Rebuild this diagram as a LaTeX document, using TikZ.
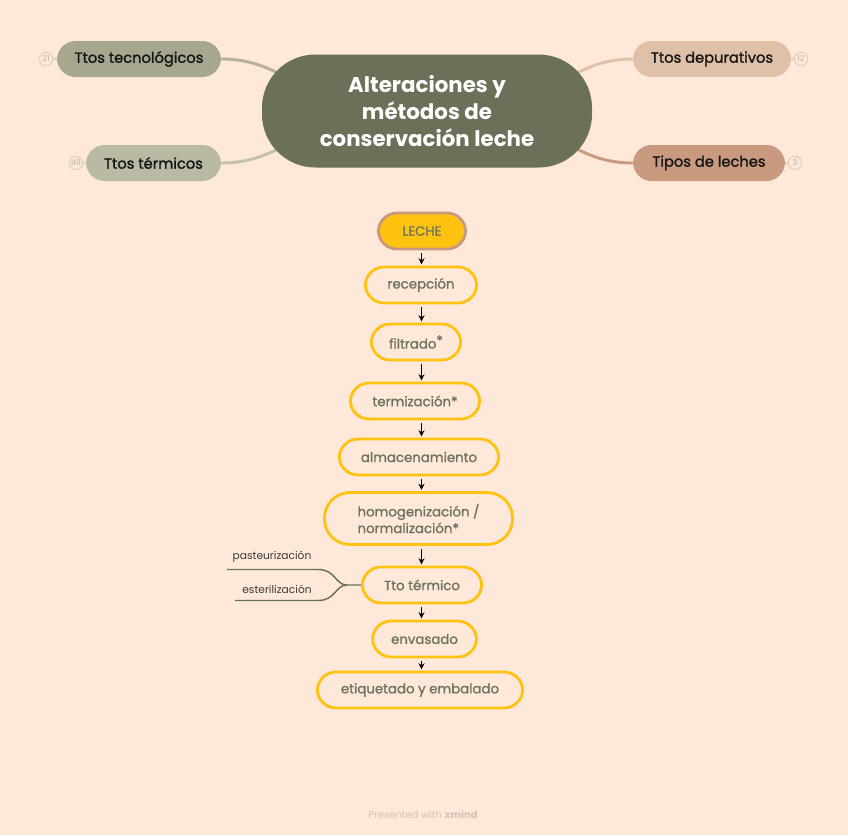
\documentclass[tikz,border=0pt]{standalone}
\usepackage{fontspec}
\setmainfont{Poppins}
\newfontfamily\semifont{Poppins}[FakeBold=1.6]
\newfontfamily\medfont{Poppins}[FakeBold=1.2]
\usepackage{xcolor}
\usetikzlibrary{arrows.meta}

\definecolor{bgpeach}{HTML}{FDE8D9}
\definecolor{hubgrey}{HTML}{6B7159}
\definecolor{tecno}{HTML}{A7A78F}
\definecolor{termi}{HTML}{B9B9A4}
\definecolor{depur}{HTML}{DFC1AA}
\definecolor{tipos}{HTML}{C99A7F}
\definecolor{amber}{HTML}{FFC20E}
\definecolor{lecheline}{HTML}{C9997F}
\definecolor{badgering}{HTML}{E2D0C1}
\definecolor{badgetext}{HTML}{C2AF9F}
\definecolor{inkdark}{HTML}{161616}
\definecolor{flowtext}{HTML}{6E735E}
\definecolor{subtext}{HTML}{3A3A36}
\definecolor{footer}{HTML}{D2C3B5}

\pgfdeclarelayer{paper}
\pgfdeclarelayer{links}
\pgfsetlayers{paper,links,main}

\begin{document}
\begin{tikzpicture}[
    x=0.75pt, y=-0.75pt,
    pill/.style={rounded corners=14pt, minimum height=27pt, inner sep=0pt},
    hub/.style={
        fill=hubgrey,
        text=white,
        font=\bfseries\fontsize{16}{20}\selectfont,
        align=center,
        rounded corners=40pt,
        minimum width=247.5pt,
        minimum height=84.75pt
    },
    branch/.style={pill, text=inkdark, font=\semifont\fontsize{11}{13}\selectfont},
    badge/.style={
        circle,
        draw=badgering,
        line width=0.9pt,
        fill=bgpeach,
        inner sep=0pt,
        minimum size=10pt,
        text=badgetext,
        font=\fontsize{6}{6}\selectfont
    },
    stepbox/.style={pill, draw=amber, line width=2.1pt, text=flowtext, font=\medfont\fontsize{10}{12.5}\selectfont},
    link/.style={line width=2.2pt},
    stub/.style={draw=badgering, line width=0.9pt},
    flow/.style={-{Stealth[length=4.5pt,width=4.5pt]}, line width=1pt, black, shorten <=2pt, shorten >=1pt},
    subline/.style={draw=hubgrey, line width=1.1pt},
    sublabel/.style={text=subtext, font=\fontsize{8}{10}\selectfont, inner sep=1pt}
]
\begin{pgfonlayer}{paper}
\fill[bgpeach] (0,0) rectangle (848,835);
\end{pgfonlayer}

% central topic and main branches
\node[hub] (hub) at (427,111) {Alteraciones y\\métodos de\\conservación leche};
\node[branch, fill=tecno, minimum width=123pt] (tec) at (139,59) {Ttos tecnológicos};
\node[branch, fill=termi, minimum width=101.25pt] (ter) at (153.5,163) {Ttos térmicos};
\node[branch, fill=depur, minimum width=118.5pt] (dep) at (712,59) {Ttos depurativos};
\node[branch, fill=tipos, minimum width=114pt] (tip) at (709,163) {Tipos de leches};

\begin{pgfonlayer}{links}
\draw[link, draw=tecno!85!bgpeach] (tec.east) .. controls +(35,0) and +(-25,-12) .. (300,84);
\draw[link, draw=termi!85!bgpeach] (ter.east) .. controls +(35,0) and +(-25,12) .. (300,138);
\draw[link, draw=depur] (dep.west) .. controls +(-35,0) and +(25,-12) .. (555,84);
\draw[link, draw=tipos] (tip.west) .. controls +(-35,0) and +(25,12) .. (555,138);
\end{pgfonlayer}

% counters
\node[badge] (tecN) at (46,59) {21};
\node[badge] (terN) at (76,163) {49};
\node[badge] (depN) at (801,59) {12};
\node[badge] (tipN) at (795,163) {3};
\draw[stub] (tecN) -- (tec);
\draw[stub] (terN) -- (ter);
\draw[stub] (depN) -- (dep);
\draw[stub] (tipN) -- (tip);

% process chain
\coordinate (spine) at (421.5,0);
\node[stepbox, fill=amber, draw=lecheline, minimum width=65.5pt] (lec) at (422,231) {LECHE};
\node[stepbox, minimum width=83.5pt] (rec) at (421,285) {recepción};
\node[stepbox, minimum width=67pt] (fil) at (416,342) {filtrado\raisebox{2.5pt}{*}};
\node[stepbox, minimum width=97pt] (term) at (415,401) {termización*};
\node[stepbox, minimum width=119.5pt] (alm) at (419,457) {almacenamiento};
\node[stepbox, minimum width=141pt, minimum height=39pt, rounded corners=19pt, align=left] (hom) at (418.5,518.5) {homogenización /\\normalización*};
\node[stepbox, minimum width=89.5pt] (tto) at (422,585) {Tto térmico};
\node[stepbox, minimum width=78pt] (env) at (424.5,639) {envasado};
\node[stepbox, minimum width=154pt] (eti) at (420,690) {etiquetado y embalado};

\foreach \a/\b in {lec/rec, rec/fil, fil/term, term/alm, alm/hom, hom/tto, tto/env, env/eti}
    \draw[flow] (\a.south -| spine) -- (\b.north -| spine);

% heat treatment options
\coordinate (fork) at (347,585);
\coordinate (pasEnd) at (227,569.5);
\coordinate (estEnd) at (235,600.5);
\node[sublabel] (pas) at (272,557) {pasteurización};
\node[sublabel] (est) at (277,589) {esterilización};
\draw[subline] (tto.west) -- (fork) .. controls (335,585) and (336,569.5) .. (318,569.5) -- (pasEnd);
\draw[subline] (fork) .. controls (335,585) and (336,600.5) .. (318,600.5) -- (estEnd);

\node[text=footer, font=\fontsize{7.5}{9}\selectfont] (credit) at (423,815) {Presented with \textbf{xmind}};
\end{tikzpicture}
\end{document}
